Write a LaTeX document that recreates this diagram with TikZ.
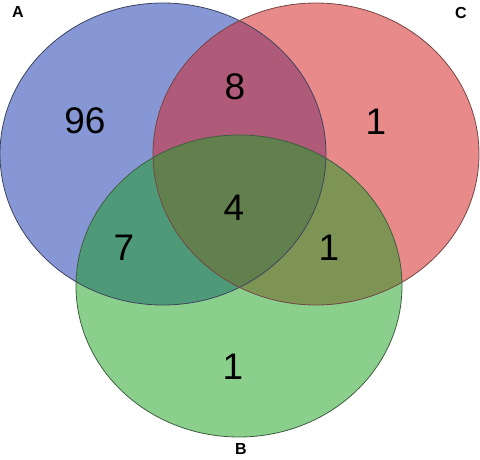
\documentclass[tikz,border=0pt]{standalone}
\usepackage{fontspec}
\setmainfont{Liberation Sans}
\definecolor{setA}{RGB}{135,150,212}
\definecolor{setB}{RGB}{138,207,140}
\definecolor{setC}{RGB}{232,138,138}
\definecolor{setAC}{RGB}{176,90,122}
\definecolor{setAB}{RGB}{78,154,120}
\definecolor{setBC}{RGB}{126,148,85}
\definecolor{setABC}{RGB}{98,128,78}
\tikzset{
  num/.style   ={font=\fontsize{37}{40}\selectfont, inner sep=0pt},
  setlbl/.style={font=\fontsize{16}{18}\selectfont\bfseries, inner sep=0pt},
  rim/.style   ={line width=0.8pt},
}
\newcommand{\ellA}{(163,154) ellipse [x radius=163, y radius=151]}
\newcommand{\ellB}{(239,286) ellipse [x radius=163, y radius=151]}
\newcommand{\ellC}{(316,154) ellipse [x radius=163, y radius=151]}

\begin{document}
\begin{tikzpicture}[x=1pt, y=-1pt]
  \useasboundingbox (0,0) rectangle (480,460);
  % single sets
  \fill[setA] \ellA;
  \fill[setC] \ellC;
  \fill[setB] \ellB;
  % overlaps
  \begin{scope}
    \clip \ellA;
    \fill[setAC] \ellC;
    \fill[setAB] \ellB;
  \end{scope}
  \begin{scope}
    \clip \ellC;
    \fill[setBC] \ellB;
    \clip \ellA;
    \fill[setABC] \ellB;
  \end{scope}
  % outlines
  \draw[rim, setA!45!black] \ellA;
  \draw[rim, setC!50!black] \ellC;
  \draw[rim, setB!45!black] \ellB;

  \node[setlbl] (lA) at (18,12) {A};
  \node[setlbl] (lC) at (461,13) {C};
  \node[setlbl] (lB) at (241,449) {B};

  \node[num] (nA)   at (85,121)  {96};
  \node[num] (nAC)  at (235,87)  {8};
  \node[num] (nC)   at (376,122) {1};
  \node[num] (nABC) at (234,208) {4};
  \node[num] (nAB)  at (124,248) {7};
  \node[num] (nBC)  at (329,248) {1};
  \node[num] (nB)   at (233,367) {1};
\end{tikzpicture}
\end{document}
